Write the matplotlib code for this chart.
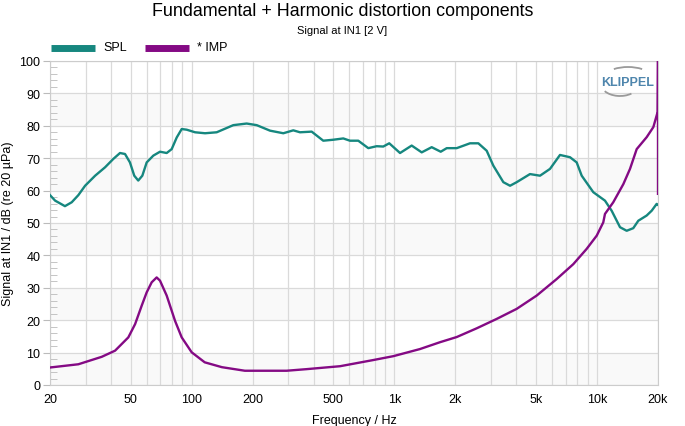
import numpy as np
import matplotlib.pyplot as plt
from matplotlib.patches import Arc
from matplotlib.ticker import FixedLocator, NullFormatter, MultipleLocator

plt.rcParams['font.family'] = ['Liberation Sans', 'DejaVu Sans']

# SPL curve (Hz, dB)
spl_f = [20, 21.2, 23.7, 25.6, 27.6, 29.8, 33.4, 37.4, 41.1, 44.3, 46.9, 49.6, 52.1,
         54.5, 57.1, 60, 64.7, 69.8, 75.3, 79.7, 84.4, 89.3, 94.5, 103.9, 116.4,
         132.9, 160.5, 186.8, 209.4, 243.6, 283.3, 317.3, 342.5, 391, 446, 500,
         560, 604, 664, 744, 818, 882, 944, 1067, 1218, 1365, 1529, 1694, 1814,
         2031, 2363, 2597, 2856, 3080, 3451, 3724, 4016, 4671, 5235, 5863, 6568,
         7359, 7940, 8405, 9590, 10950, 11810, 12990, 14010, 15100, 15990, 17580,
         18620, 19700, 20000]
spl_db = [58.6, 56.9, 55.2, 56.4, 58.6, 61.5, 64.6, 67.2, 69.8, 71.6, 71.3, 68.7, 64.6,
          63.1, 64.6, 68.7, 70.8, 72, 71.6, 72.8, 76.4, 79, 78.8, 78, 77.7,
          78, 80.2, 80.7, 80.2, 78.5, 77.7, 78.6, 78, 78.2, 75.4, 75.7,
          76.1, 75.4, 75.4, 73.1, 73.7, 73.6, 74.6, 71.6, 73.9, 71.8, 73.4, 72, 73.1,
          73.1, 74.6, 74.6, 72.3, 67.7, 62.6, 61.5, 62.6, 65.1, 64.6, 66.7, 71,
          70.3, 68.7, 64.6, 59.5, 56.9, 53.8, 48.7, 47.6, 48.4, 50.7, 52.3,
          53.8, 55.9, 55.6]

# Impedance curve (Hz, value on same axis)
imp_f = [20, 27.6, 36, 41.9, 48.7, 52.6, 56.7, 60, 63.5, 67.2, 69.8, 75.3, 82.8,
         89.3, 100, 116, 141, 183, 294, 370, 540, 787, 989, 1339, 1679, 2031,
         2550, 3200, 4016, 5040, 6325, 7640, 8890, 9970, 10740, 10950, 12030,
         13490, 14550, 15700, 17590, 18970, 19930, 20000, 20000]
imp_val = [5.4, 6.4, 8.7, 10.6, 14.7, 18.8, 24.5, 28.6, 31.7, 33.2, 32.2, 27.6, 19.8,
           14.7, 10.1, 7.0, 5.5, 4.4, 4.4, 4.9, 5.8, 7.7, 8.9, 11.1, 13.2, 14.8,
           17.5, 20.4, 23.5, 27.6, 32.7, 37.3, 42, 46.1, 50.2, 52.8, 56.4,
           62, 66.7, 72.8, 76.5, 79.6, 84.3, 100, 59]

xticks = [20, 50, 100, 200, 500, 1000, 2000, 5000, 10000, 20000]
xtick_labels = ['20', '50', '100', '200', '500', '1k', '2k', '5k', '10k', '20k']

teal = '#16877f'
purple = '#840a84'

fig = plt.figure(figsize=(6.85, 4.27), dpi=100)
ax = fig.add_axes([50/685, 1-386/427, 608/685, 324/427])

for lo in range(0, 100, 20):
    ax.axhspan(lo, lo+10, color='#f9f9f9', zorder=0, lw=0)

ax.plot(spl_f, spl_db, color=teal, lw=1.7, zorder=3)
ax.plot(imp_f, imp_val, color=purple, lw=1.7, zorder=4)

ax.set_xscale('log')
ax.set_xlim(20, 20000)
ax.set_ylim(0, 100)
ax.set_xticks(xticks)
ax.set_xticklabels(xtick_labels)
ax.xaxis.set_minor_locator(FixedLocator(
    [m*10**e for e in range(1, 5) for m in range(2, 10) if 20 <= m*10**e <= 20000]))
ax.xaxis.set_minor_formatter(NullFormatter())
ax.yaxis.set_major_locator(MultipleLocator(10))
ax.yaxis.set_minor_locator(MultipleLocator(2))

ax.grid(which='both', axis='x', color='#dadada', lw=0.9)
ax.grid(which='major', axis='y', color='#dadada', lw=0.9)
ax.set_axisbelow(True)

ax.tick_params(axis='x', which='both', length=0, labelsize=9, pad=6)
ax.tick_params(axis='y', which='major', length=5, color='#bbbbbb', labelsize=9, pad=2)
ax.tick_params(axis='y', which='minor', direction='in', length=5, color='#bbbbbb')
for s in ax.spines.values():
    s.set_color('#cccccc')

ax.set_xlabel('Frequency / Hz', fontsize=9, labelpad=6)
ax.set_ylabel('Signal at IN1 / dB (re 20 µPa)', fontsize=9, labelpad=4)

fig.text(0.5, 1-12/427, 'Fundamental + Harmonic distortion components',
         ha='center', va='center', fontsize=12.9)
fig.text(0.5, 1-31/427, 'Signal at IN1 [2 V]', ha='center', va='center', fontsize=8)

# legend
fig.add_artist(plt.Line2D([51/685, 95/685], [1-49/427]*2, color=teal, lw=5,
                          solid_capstyle='butt'))
fig.text(103/685, 1-48/427, 'SPL', va='center', fontsize=9)
fig.add_artist(plt.Line2D([145/685, 189/685], [1-49/427]*2, color=purple, lw=5,
                          solid_capstyle='butt'))
fig.text(197/685, 1-48/427, '* IMP', va='center', fontsize=9)

# logo, drawn in pixel units of the figure
lax = fig.add_axes([594/685, 1-104/427, 62/685, 42/427])
lax.set_xlim(594, 656)
lax.set_ylim(427-104, 427-62)
lax.axis('off')
lax.text(628, 427-83, 'KLIPPEL', ha='center', va='center', fontsize=9,
         fontweight='bold', color='#4f86ad')
lax.add_patch(Arc((628, 427-80), 50, 24, theta1=35, theta2=145, color='#9a9a9a', lw=1.3))
lax.add_patch(Arc((620, 427-85), 38, 24, theta1=205, theta2=320, color='#9a9a9a', lw=1.3))

fig.savefig('out.png', dpi=100)
